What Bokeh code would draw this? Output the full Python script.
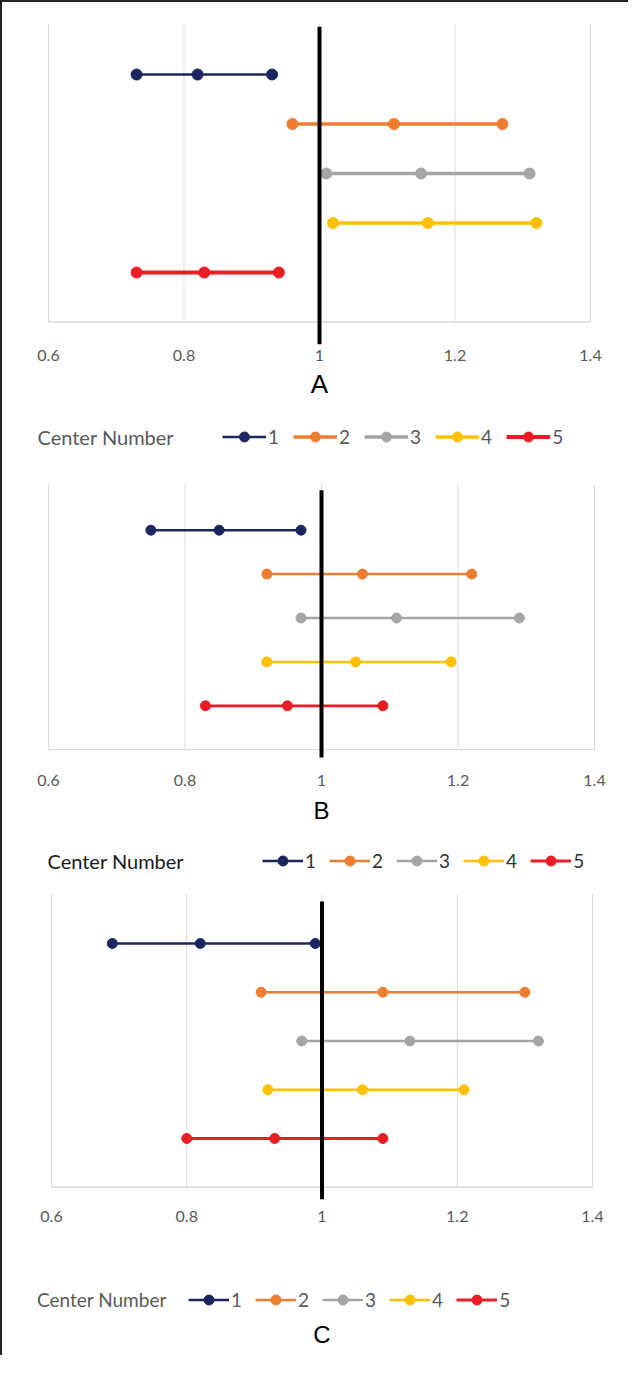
from bokeh.plotting import figure
from bokeh.layouts import column
from bokeh.models import Range1d, Legend, LegendItem
from bokeh.core.properties import value
from bokeh.embed import file_html
from bokeh.resources import INLINE

# ---------------- data ----------------
centers = ["1", "2", "3", "4", "5"]
tick_labels = ["0.6", "0.8", "1", "1.2", "1.4"]
reference_value = 1.0
legend_title = "Center Number"
panel_letters = ["A", "B", "C"]

A_low = [0.73, 0.96, 1.01, 1.02, 0.73]
A_mid = [0.82, 1.11, 1.15, 1.16, 0.83]
A_high = [0.93, 1.27, 1.31, 1.32, 0.94]

B_low = [0.75, 0.92, 0.97, 0.92, 0.83]
B_mid = [0.85, 1.06, 1.11, 1.05, 0.95]
B_high = [0.97, 1.22, 1.29, 1.19, 1.09]

C_low = [0.69, 0.91, 0.97, 0.92, 0.80]
C_mid = [0.82, 1.09, 1.13, 1.06, 0.93]
C_high = [0.99, 1.30, 1.32, 1.21, 1.09]

# ---------------- style ----------------
colors = ["#1b2660", "#ed7d31", "#a5a5a5", "#ffc000", "#ec1c24"]
GRID = "#d9d9d9"
TXT = "#595959"
W = 626

ticks = [float(t) for t in tick_labels]
n = len(centers)
rows = [n - i for i in range(n)]


def make_panel(low, mid, high, letter, g):
    # pixel geometry -> data ranges (frame covers the whole figure)
    k = (g["p14"] - g["p06"]) / (ticks[-1] - ticks[0])
    x0 = ticks[0] - g["p06"] / k
    x1 = ticks[0] + (W - g["p06"]) / k
    s = g["s"]
    ytop = 1 + g["y1"] / s
    ybot = 1 - (g["h"] - g["y1"]) / s

    def ypx(px):
        return 1 - (px - g["y1"]) / s

    p = figure(width=W, height=g["h"], output_backend="svg", toolbar_location=None,
               x_range=Range1d(x0, x1), y_range=Range1d(ybot, ytop),
               x_axis_location=None, y_axis_location=None,
               min_border=0, min_border_left=0, min_border_right=0,
               min_border_top=0, min_border_bottom=0)
    p.outline_line_color = None
    p.xgrid.visible = False
    p.ygrid.visible = False
    p.background_fill_color = "white"
    p.border_fill_color = "white"

    gtop = ypx(g["gtop_px"])
    # vertical gridlines and the category axis line
    p.segment(x0=ticks, x1=ticks, y0=[0] * len(ticks), y1=[gtop] * len(ticks),
              line_color=GRID, line_width=1)
    p.segment(x0=[ticks[0]], x1=[ticks[-1]], y0=[0], y1=[0], line_color=GRID, line_width=1.3)

    items = []
    for i in range(n):
        xs = [low[i], mid[i], high[i]]
        ys = [rows[i]] * 3
        lr = p.line(xs, ys, line_color=colors[i], line_width=g["lw"][i])
        sr = p.scatter(xs, ys, size=g["ms"], fill_color=colors[i], line_color=colors[i])
        items.append(LegendItem(label=centers[i], renderers=[lr, sr]))

    # reference line at 1
    p.segment(x0=[reference_value], x1=[reference_value],
              y0=[ypx(g["rbot_px"])], y1=[ypx(g["rtop_px"])],
              line_color="black", line_width=4)

    # tick labels
    p.text(x=ticks, y=[ypx(g["tick_px"])] * len(ticks), text=tick_labels,
           text_font=value("Lato"), text_font_size="16px", text_color=TXT,
           text_align="center", text_baseline="middle")

    # panel letter
    mid_x = (ticks[0] + ticks[-1]) / 2
    p.text(x=[mid_x], y=[ypx(g["letter_px"])], text=[letter],
           text_font=value("Liberation Sans"), text_font_size=g["tfs"], text_color="black",
           text_align="center", text_baseline="middle")

    # legend title
    p.text(x=[ticks[0] + (g["title_left_px"] - g["p06"]) / k], y=[ypx(g["leg_px"])],
           text=[legend_title], text_font=value("Lato"), text_font_size=g["lfs"],
           text_color=g["lcol"], text_align="left", text_baseline="middle")

    legend = Legend(items=items, orientation="horizontal",
                    label_text_font="Lato", label_text_font_size="19px",
                    label_text_color=g["lcol2"], label_standoff=2, label_width=0,
                    glyph_width=g["gw"], glyph_height=25, spacing=g["sp"],
                    padding=0, margin=0, border_line_color=None,
                    background_fill_alpha=0,
                    location=(g["glyph_left_px"], g["h"] - (g["leg_px"] + 12.5)))
    p.add_layout(legend)
    return p


gA = dict(h=450, p06=46, p14=588, s=49.5, y1=270, gtop_px=21.5, rtop_px=24.3, rbot_px=341.7,
          tick_px=353, letter_px=381, leg_px=434, title_left_px=35, glyph_left_px=220,
          lw=[2.5, 3.3, 3.5, 3.5, 4.2], ms=11, tfs="26px", lfs="20px",
          lcol=TXT, lcol2=TXT, gw=44, sp=14)
gB = dict(h=430, p06=46, p14=592, s=43.9, y1=253.3, gtop_px=32, rtop_px=37.7, rbot_px=305,
          tick_px=328, letter_px=358, leg_px=408, title_left_px=45, glyph_left_px=260,
          lw=[2.5, 2.5, 2.5, 2.5, 2.8], ms=10, tfs="24px", lfs="20px",
          lcol="#1a1a1a", lcol2="#333333", gw=41, sp=13)
gC = dict(h=473, p06=49, p14=590, s=48.75, y1=256, gtop_px=12, rtop_px=19, rbot_px=316.7,
          tick_px=334, letter_px=452, leg_px=417, title_left_px=34.5, glyph_left_px=186,
          lw=[2.5, 2.5, 2.5, 2.5, 2.8], ms=10, tfs="24px", lfs="19px",
          lcol=TXT, lcol2=TXT, gw=41, sp=13)

pA = make_panel(A_low, A_mid, A_high, panel_letters[0], gA)
pB = make_panel(B_low, B_mid, B_high, panel_letters[1], gB)
pC = make_panel(C_low, C_mid, C_high, panel_letters[2], gC)

layout = column(pA, pB, pC, spacing=0,
                styles={"border-left": "2px solid #222222", "border-top": "2px solid #222222"})

open("out.html", "w").write(file_html(layout, INLINE))
